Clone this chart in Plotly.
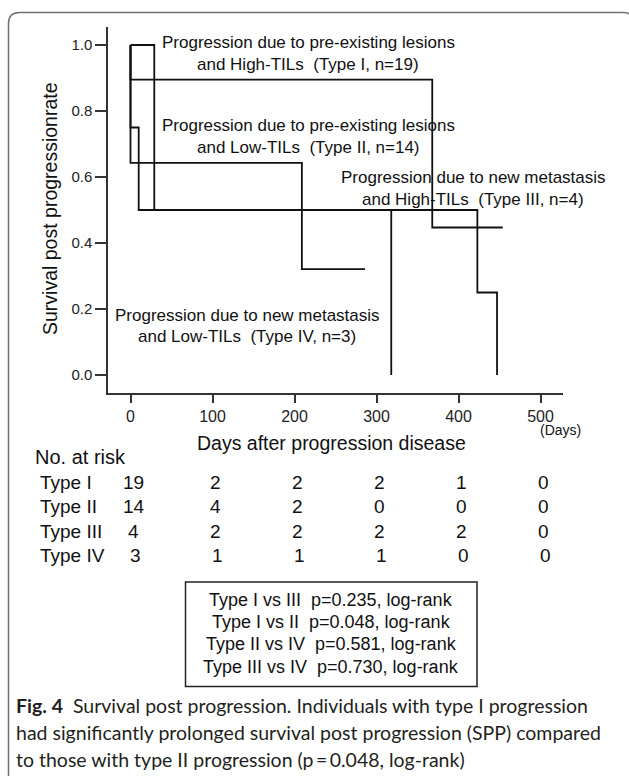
import plotly.graph_objects as go

# ---------------- data ----------------
type1_days = [0, 0, 368, 454]
type1_surv = [1.0, 0.895, 0.447, 0.447]
type2_days = [0, 0, 209, 286]
type2_surv = [1.0, 0.643, 0.321, 0.321]
type3_days = [0, 29, 423, 447]
type3_surv = [1.0, 0.5, 0.25, 0.0]
type4_days = [0, 0, 10, 318]
type4_surv = [1.0, 0.75, 0.5, 0.0]

x_ticks = [0, 100, 200, 300, 400, 500]
y_ticks = [0.0, 0.2, 0.4, 0.6, 0.8, 1.0]
y_tick_labels = ["0.0", "0.2", "0.4", "0.6", "0.8", "1.0"]

risk_groups = ["Type I", "Type II", "Type III", "Type IV"]
risk_type1 = [19, 2, 2, 2, 1, 0]
risk_type2 = [14, 4, 2, 0, 0, 0]
risk_type3 = [4, 2, 2, 2, 2, 0]
risk_type4 = [3, 1, 1, 1, 0, 0]

curve_labels = [
    ("Progression due to pre-existing lesions", "and High-TILs  (Type I, n=19)"),
    ("Progression due to pre-existing lesions", "and Low-TILs  (Type II, n=14)"),
    ("Progression due to new metastasis", "and High-TILs  (Type III, n=4)"),
    ("Progression due to new metastasis", "and Low-TILs  (Type IV, n=3)"),
]
pvalue_lines = [
    "Type I vs III  p=0.235, log-rank",
    "Type I vs II  p=0.048, log-rank",
    "Type II vs IV  p=0.581, log-rank",
    "Type III vs IV  p=0.730, log-rank",
]
y_title = "Survival post progressionrate"
x_title = "Days after progression disease"

# ---------------- layout geometry (pixels) ----------------
W, H = 629, 776
L, R, T, B = 108, 563, 27, 393  # plot area edges in px


def px_x(px):
    return (px - L) / (R - L)


def px_y(py):
    return (B - py) / (B - T)


ARIAL = "Arial, Liberation Sans, sans-serif"
INK = "#111111"

fig = go.Figure()
for d, s in [(type1_days, type1_surv), (type2_days, type2_surv),
             (type3_days, type3_surv), (type4_days, type4_surv)]:
    fig.add_trace(go.Scatter(x=d, y=s, mode="lines", line_shape="hv",
                             line=dict(color=INK, width=1.8),
                             showlegend=False, hoverinfo="skip"))

annotations = []


def ann(x, y, text, size, xanchor="center", family=ARIAL, xref="paper",
        textangle=0, color=INK):
    annotations.append(dict(
        x=x if xref != "paper" else px_x(x), y=px_y(y), xref=xref, yref="paper",
        text=text, showarrow=False, xanchor=xanchor, yanchor="middle",
        font=dict(family=family, size=size, color=color),
        textangle=textangle))


# curve labels
label_pos = [(308, 42, 64), (308, 126, 147), (473, 177, 199), (247, 315, 336)]
for (l1, l2), (cx, y1, y2) in zip(curve_labels, label_pos):
    ann(cx, y1, l1, 17)
    ann(cx, y2, l2, 17)

# axis titles
ann(50, 209, y_title, 19.5, textangle=-90)
ann(331, 443, x_title, 19.5)
ann(560, 430, "(Days)", 14)

# at-risk table
ann(33, 457, "No. at risk", 20, xanchor="left")
row_y = [482, 506, 531, 555]
row_shift = [4, 4, 4, 6]
rows = [risk_type1, risk_type2, risk_type3, risk_type4]
for name, vals, ry, sh in zip(risk_groups, rows, row_y, row_shift):
    ann(38, ry, name, 19, xanchor="left")
    for xt, v in zip(x_ticks, vals):
        ann(xt + sh, ry, str(v), 19, xref="x")

# p-value box text
for i, line in enumerate(pvalue_lines):
    ann(331, 599.5 + 22.4 * i, line, 18)

# caption
CAP = "Lato, Noto Sans, sans-serif"
cap_lines = [
    "<b>Fig. 4</b>  Survival post progression. Individuals with type I progression",
    "had significantly prolonged survival post progression (SPP) compared",
    "to those with type II progression (p\u2009=\u20090.048, log-rank)",
]
for i, line in enumerate(cap_lines):
    ann(14, 705 + 27.5 * i, line, 19.5, xanchor="left", family=CAP, color="#231f20")

# shapes: p-value box and outer rounded frame
shapes = [dict(type="rect", xref="paper", yref="paper",
               x0=px_x(185.5), x1=px_x(477), y0=px_y(582), y1=px_y(686.5),
               line=dict(color="#222222", width=1.5))]

fx0, fy0, fx1, fy1, r = 8.5, 12.5, 634, 800, 11


def P(x, y):
    return f"{px_x(x):.5f},{px_y(y):.5f}"


frame_path = (f"M {P(fx0, fy1)} L {P(fx0, fy0 + r)} Q {P(fx0, fy0)} {P(fx0 + r, fy0)} "
              f"L {P(fx1 - r, fy0)} Q {P(fx1, fy0)} {P(fx1, fy0 + r)} L {P(fx1, fy1)}")
shapes.append(dict(type="path", xref="paper", yref="paper", path=frame_path,
                   line=dict(color="#707070", width=1.5)))

fig.update_layout(
    width=W, height=H,
    margin=dict(l=L, r=W - R, t=T, b=H - B, pad=0),
    paper_bgcolor="white", plot_bgcolor="white",
    annotations=annotations, shapes=shapes,
    xaxis=dict(range=[(L - 130.5) / 0.82, (R - 130.5) / 0.82],
               tickvals=x_ticks, ticks="outside", ticklen=8, tickwidth=1.5,
               tickcolor="#333", showline=True, linecolor="#333", linewidth=1.5,
               showgrid=False, zeroline=False,
               tickfont=dict(family=ARIAL, size=16, color="#222")),
    yaxis=dict(range=[(375 - B) / 330, (375 - T) / 330],
               tickvals=y_ticks, ticktext=y_tick_labels, ticks="outside",
               ticklen=11, tickwidth=1.5, tickcolor="#333", showline=True,
               linecolor="#333", linewidth=1.5, showgrid=False, zeroline=False,
               tickfont=dict(family=ARIAL, size=15, color="#222")),
)

fig.write_html("out.html", config={"displayModeBar": False})
